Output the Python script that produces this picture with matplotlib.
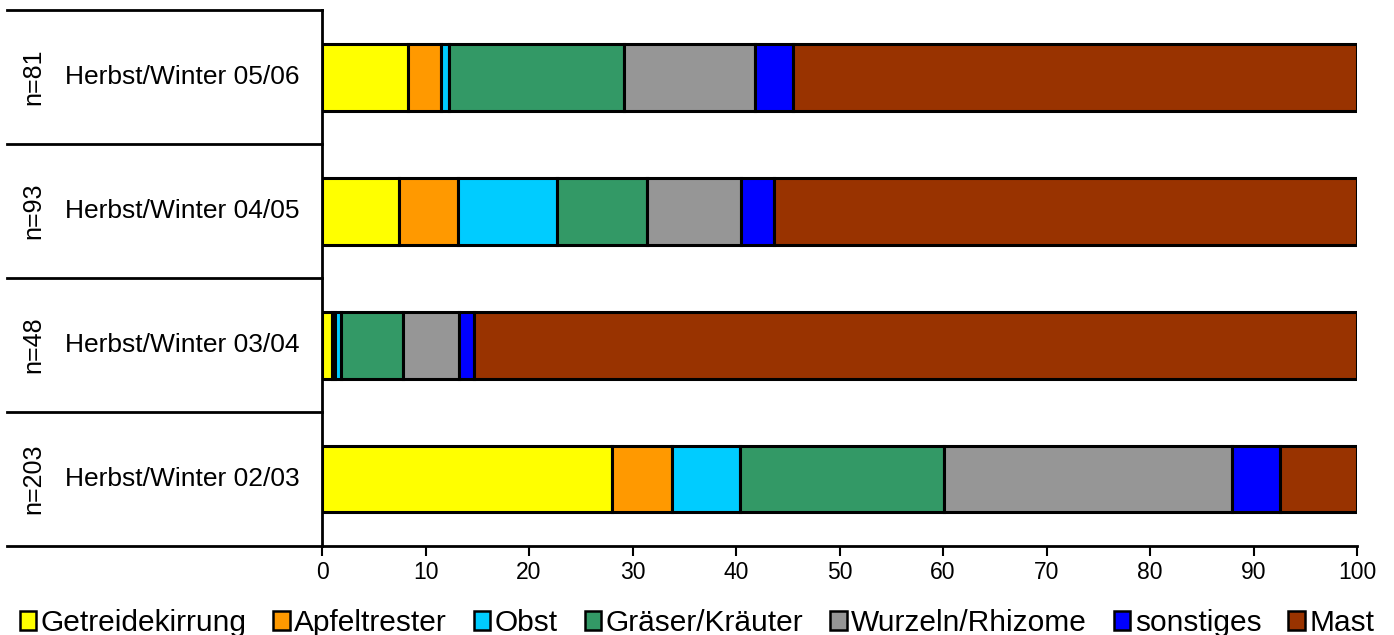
import matplotlib.pyplot as plt
import matplotlib.transforms as mtransforms
from matplotlib.patches import Patch
import numpy as np

plt.rcParams['font.family'] = ['Liberation Sans', 'DejaVu Sans']

# Zeitraeume von unten nach oben
seasons = ['Herbst/Winter 02/03', 'Herbst/Winter 03/04', 'Herbst/Winter 04/05', 'Herbst/Winter 05/06']
n_labels = ['n=203', 'n=48', 'n=93', 'n=81']

categories = ['Getreidekirrung', 'Apfeltrester', 'Obst', 'Gräser/Kräuter',
              'Wurzeln/Rhizome', 'sonstiges', 'Mast']
colors = ['#FFFF00', '#FF9900', '#00CCFF', '#339966', '#969696', '#0000FF', '#993300']

# Anteile in %, je Zeitraum (02/03, 03/04, 04/05, 05/06)
getreide = [28.0, 1.0, 7.4, 8.3]
apfel = [5.8, 0.3, 5.7, 3.2]
obst = [6.6, 0.5, 9.6, 0.8]
graeser = [19.7, 6.0, 8.7, 16.9]
wurzeln = [27.8, 5.4, 9.1, 12.6]
sonstiges = [4.7, 1.5, 3.2, 3.7]
mast = [7.4, 85.3, 56.3, 54.5]

data = [getreide, apfel, obst, graeser, wurzeln, sonstiges, mast]

fig = plt.figure(figsize=(13.94, 6.35), dpi=100)
ax = fig.add_axes([0.231, 0.1402, 0.7425, 0.8438])

y = np.arange(len(seasons))
left = np.zeros(len(seasons))
for vals, col, lab in zip(data, colors, categories):
    ax.barh(y, vals, left=left, height=0.5, color=col, edgecolor='black',
            linewidth=2.2, label=lab)
    left += np.array(vals)

ax.set_xlim(0, 100)
ax.set_ylim(-0.5, 3.5)
ax.set_xticks(range(0, 101, 10))
ax.tick_params(axis='x', direction='out', length=7, width=1.5, labelsize=16.5, pad=4)
ax.set_yticks([])
for s in ['top', 'right']:
    ax.spines[s].set_visible(False)
ax.spines['left'].set_linewidth(2)
ax.spines['bottom'].set_linewidth(2)

# Trennlinien und Beschriftungen links
trans = mtransforms.blended_transform_factory(ax.transAxes, ax.transData)
x0 = (7 - 322) / 1035
for b in np.arange(-0.5, 3.6, 1):
    ax.plot([x0, 0], [b, b], transform=trans, color='black', lw=2, clip_on=False)
for i, (s, n) in enumerate(zip(seasons, n_labels)):
    ax.text((65 - 322) / 1035, i, s, transform=trans, ha='left', va='center', fontsize=19)
    ax.text((33 - 322) / 1035, i, n, transform=trans, ha='center', va='center',
            rotation=90, fontsize=18)

handles = [Patch(facecolor=c, edgecolor='black', linewidth=1.8, label=l)
           for c, l in zip(colors, categories)]
fig.legend(handles=handles, loc='lower center', bbox_to_anchor=(0.5, -0.045), ncol=7,
           frameon=False, fontsize=21.5, handlelength=0.55, handleheight=0.6,
           handletextpad=0.15, columnspacing=0.9)

fig.savefig('out.png', dpi=100)
